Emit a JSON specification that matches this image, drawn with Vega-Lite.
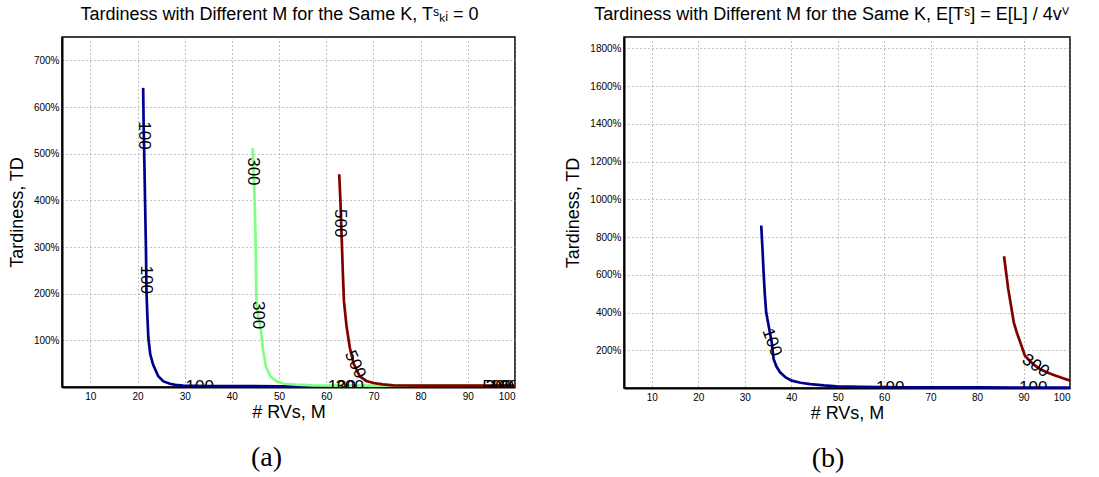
{
  "$schema": "https://vega.github.io/schema/vega-lite/v6.json",
  "padding": {"left": 7, "top": 4, "right": 5, "bottom": 5},
  "background": "white",
  "resolve": {"scale": {"color": "independent"}},
  "config": {
    "font": "Liberation Sans",
    "view": {"stroke": "black", "strokeWidth": 1.5},
    "concat": {"spacing": 42},
    "axis": {
      "grid": true,
      "gridColor": "#888888",
      "gridDash": [1, 3],
      "gridWidth": 1,
      "gridOpacity": 1,
      "ticks": false,
      "domain": true,
      "domainColor": "black",
      "domainWidth": 2,
      "labelFont": "Liberation Sans",
      "labelFontSize": 10,
      "labelColor": "black",
      "labelPadding": 4,
      "titleFont": "Liberation Sans",
      "titleFontSize": 18,
      "titleFontWeight": "normal",
      "titleColor": "black"
    }
  },
  "hconcat": [
    {
      "width": 453,
      "height": 350,
      "title": {"text": "(a)", "orient": "bottom", "font": "Liberation Serif", "fontSize": 28, "fontWeight": "normal", "color": "black", "offset": 23, "dx": -22},
      "resolve": {"axis": {"x": "independent", "y": "independent"}},
      "layer": [
        {
          "data": {"values": [
            {"M": 21.2, "td": 641, "k": "100"}, {"M": 21.3, "td": 560, "k": "100"}, {"M": 21.4, "td": 512, "k": "100"},
            {"M": 21.6, "td": 400, "k": "100"}, {"M": 21.8, "td": 290, "k": "100"}, {"M": 21.9, "td": 206, "k": "100"},
            {"M": 22.1, "td": 150, "k": "100"}, {"M": 22.3, "td": 105, "k": "100"}, {"M": 22.7, "td": 70, "k": "100"},
            {"M": 23.3, "td": 48, "k": "100"}, {"M": 24.4, "td": 23, "k": "100"}, {"M": 25.5, "td": 12, "k": "100"},
            {"M": 26.9, "td": 7, "k": "100"}, {"M": 28, "td": 4.5, "k": "100"}, {"M": 29.7, "td": 3, "k": "100"},
            {"M": 35, "td": 2, "k": "100"}, {"M": 50, "td": 1.5, "k": "100"}, {"M": 100, "td": 1.5, "k": "100"},
            {"M": 44.4, "td": 512, "k": "300"}, {"M": 44.7, "td": 441, "k": "300"}, {"M": 45.0, "td": 330, "k": "300"},
            {"M": 45.2, "td": 184, "k": "300"}, {"M": 45.6, "td": 150, "k": "300"}, {"M": 46.1, "td": 126, "k": "300"},
            {"M": 46.6, "td": 80, "k": "300"}, {"M": 47.2, "td": 44, "k": "300"}, {"M": 48.2, "td": 22, "k": "300"},
            {"M": 49.5, "td": 12, "k": "300"}, {"M": 51, "td": 7, "k": "300"}, {"M": 53.7, "td": 5, "k": "300"},
            {"M": 57, "td": 3.5, "k": "300"}, {"M": 62, "td": 3, "k": "300"}, {"M": 100, "td": 3, "k": "300"},
            {"M": 62.75, "td": 456, "k": "500"}, {"M": 63.0, "td": 400, "k": "500"}, {"M": 63.25, "td": 326, "k": "500"},
            {"M": 63.5, "td": 250, "k": "500"}, {"M": 63.75, "td": 184, "k": "500"}, {"M": 64.3, "td": 130, "k": "500"},
            {"M": 65.0, "td": 84, "k": "500"}, {"M": 65.8, "td": 50, "k": "500"}, {"M": 67.1, "td": 23, "k": "500"},
            {"M": 68.5, "td": 13, "k": "500"}, {"M": 70, "td": 8.6, "k": "500"}, {"M": 72, "td": 5.5, "k": "500"},
            {"M": 74.2, "td": 3.5, "k": "500"}, {"M": 80, "td": 3, "k": "500"}, {"M": 100, "td": 3, "k": "500"}
          ]},
          "mark": {"type": "line", "strokeWidth": 2.7},
          "encoding": {
            "x": {"field": "M", "type": "quantitative", "scale": {"domain": [4, 100], "nice": false, "zero": false},
                  "axis": {"values": [10, 20, 30, 40, 50, 60, 70, 80, 90, 100], "title": "# RVs, M", "titlePadding": 2}},
            "y": {"field": "td", "type": "quantitative", "scale": {"domain": [0, 750], "nice": false},
                  "axis": {"values": [100, 200, 300, 400, 500, 600, 700], "labelExpr": "datum.value + '%'", "title": "Tardiness, TD", "titlePadding": 7, "labelPadding": 3}},
            "color": {"field": "k", "type": "nominal", "scale": {"domain": ["100", "300", "500"], "range": ["#00008f", "#80ff80", "#800000"]}, "legend": null}
          }
        },
        {
          "data": {"values": [
            {"M": 21.4, "td": 539, "k": "100"}, {"M": 21.85, "td": 230, "k": "100"},
            {"M": 44.55, "td": 462, "k": "300"}, {"M": 45.5, "td": 154, "k": "300"},
            {"M": 63.0, "td": 351, "k": "500"}
          ]},
          "mark": {"type": "text", "angle": 90, "fontSize": 17, "font": "Liberation Sans", "color": "black", "clip": true, "baseline": "middle", "align": "center"},
          "encoding": {
            "x": {"field": "M", "type": "quantitative", "scale": {"domain": [4, 100], "nice": false, "zero": false}, "axis": null},
            "y": {"field": "td", "type": "quantitative", "scale": {"domain": [0, 750], "nice": false}, "axis": null},
            "text": {"field": "k"}
          }
        },
        {
          "data": {"values": [{"M": 66.1, "td": 48, "k": "500"}]},
          "mark": {"type": "text", "angle": 65, "fontSize": 17, "font": "Liberation Sans", "color": "black", "clip": true, "baseline": "middle", "align": "center"},
          "encoding": {
            "x": {"field": "M", "type": "quantitative", "scale": {"domain": [4, 100], "nice": false, "zero": false}, "axis": null},
            "y": {"field": "td", "type": "quantitative", "scale": {"domain": [0, 750], "nice": false}, "axis": null},
            "text": {"field": "k"}
          }
        },
        {
          "data": {"values": [
            {"M": 33.2, "td": 0, "k": "100"}, {"M": 63.3, "td": 0, "k": "100"}, {"M": 65.0, "td": 0, "k": "300"},
            {"M": 96.1, "td": 0, "k": "500"}, {"M": 96.8, "td": 0, "k": "300"}, {"M": 97.6, "td": 0, "k": "100"}
          ]},
          "mark": {"type": "text", "angle": 0, "fontSize": 17, "font": "Liberation Sans", "color": "black", "clip": true, "baseline": "middle", "align": "center"},
          "encoding": {
            "x": {"field": "M", "type": "quantitative", "scale": {"domain": [4, 100], "nice": false, "zero": false},
                  "axis": {"orient": "top", "labels": false, "ticks": false, "domain": false, "grid": false, "title": "Tardiness with Different M for the Same K, Tˢₖᵢ = 0", "titleFontSize": 18, "titlePadding": 14, "titleX": 217}},
            "y": {"field": "td", "type": "quantitative", "scale": {"domain": [0, 750], "nice": false}, "axis": null},
            "text": {"field": "k"}
          }
        }
      ]
    },
    {
      "width": 446,
      "height": 351,
      "title": {"text": "(b)", "orient": "bottom", "font": "Liberation Serif", "fontSize": 28, "fontWeight": "normal", "color": "black", "offset": 23, "dx": -19},
      "resolve": {"axis": {"x": "independent", "y": "independent"}},
      "layer": [
        {
          "data": {"values": [
            {"M": 33.54, "td": 861, "k": "100"}, {"M": 33.8, "td": 740, "k": "100"}, {"M": 34.05, "td": 613, "k": "100"},
            {"M": 34.3, "td": 500, "k": "100"}, {"M": 34.6, "td": 401, "k": "100"}, {"M": 35.2, "td": 320, "k": "100"},
            {"M": 35.8, "td": 242, "k": "100"}, {"M": 36.2, "td": 154, "k": "100"}, {"M": 36.8, "td": 115, "k": "100"},
            {"M": 37.6, "td": 83, "k": "100"}, {"M": 38.8, "td": 56, "k": "100"}, {"M": 40.1, "td": 39, "k": "100"},
            {"M": 42, "td": 28, "k": "100"}, {"M": 44.1, "td": 21, "k": "100"}, {"M": 47, "td": 14, "k": "100"},
            {"M": 49.8, "td": 9, "k": "100"}, {"M": 55, "td": 6, "k": "100"}, {"M": 64, "td": 4, "k": "100"},
            {"M": 80, "td": 3, "k": "100"}, {"M": 100, "td": 2, "k": "100"},
            {"M": 85.8, "td": 698, "k": "300"}, {"M": 86.7, "td": 525, "k": "300"}, {"M": 87.9, "td": 348, "k": "300"},
            {"M": 88.6, "td": 290, "k": "300"}, {"M": 89.3, "td": 242, "k": "300"}, {"M": 90.3, "td": 171, "k": "300"},
            {"M": 91.3, "td": 145, "k": "300"}, {"M": 92.5, "td": 118, "k": "300"}, {"M": 93.7, "td": 98, "k": "300"},
            {"M": 95.0, "td": 83, "k": "300"}, {"M": 96.5, "td": 69, "k": "300"}, {"M": 97.9, "td": 57, "k": "300"},
            {"M": 100, "td": 39, "k": "300"}
          ]},
          "mark": {"type": "line", "strokeWidth": 2.7},
          "encoding": {
            "x": {"field": "M", "type": "quantitative", "scale": {"domain": [4, 100], "nice": false, "zero": false},
                  "axis": {"values": [10, 20, 30, 40, 50, 60, 70, 80, 90, 100], "title": "# RVs, M", "titlePadding": 2}},
            "y": {"field": "td", "type": "quantitative", "scale": {"domain": [0, 1860], "nice": false},
                  "axis": {"values": [200, 400, 600, 800, 1000, 1200, 1400, 1600, 1800], "labelExpr": "datum.value + '%'", "title": "Tardiness, TD", "titlePadding": 7, "labelPadding": 3}},
            "color": {"field": "k", "type": "nominal", "scale": {"domain": ["100", "300"], "range": ["#00008f", "#800000"]}, "legend": null}
          }
        },
        {
          "data": {"values": [{"M": 35.8, "td": 242, "k": "100"}]},
          "mark": {"type": "text", "angle": 70, "fontSize": 17, "font": "Liberation Sans", "color": "black", "clip": true, "baseline": "middle", "align": "center"},
          "encoding": {
            "x": {"field": "M", "type": "quantitative", "scale": {"domain": [4, 100], "nice": false, "zero": false}, "axis": null},
            "y": {"field": "td", "type": "quantitative", "scale": {"domain": [0, 1860], "nice": false}, "axis": null},
            "text": {"field": "k"}
          }
        },
        {
          "data": {"values": [{"M": 92.6, "td": 118, "k": "300"}]},
          "mark": {"type": "text", "angle": 34, "fontSize": 17, "font": "Liberation Sans", "color": "black", "clip": true, "baseline": "middle", "align": "center"},
          "encoding": {
            "x": {"field": "M", "type": "quantitative", "scale": {"domain": [4, 100], "nice": false, "zero": false}, "axis": null},
            "y": {"field": "td", "type": "quantitative", "scale": {"domain": [0, 1860], "nice": false}, "axis": null},
            "text": {"field": "k"}
          }
        },
        {
          "data": {"values": [{"M": 61.3, "td": 0, "k": "100"}, {"M": 92.1, "td": 0, "k": "100"}]},
          "mark": {"type": "text", "angle": 0, "fontSize": 17, "font": "Liberation Sans", "color": "black", "clip": true, "baseline": "middle", "align": "center"},
          "encoding": {
            "x": {"field": "M", "type": "quantitative", "scale": {"domain": [4, 100], "nice": false, "zero": false},
                  "axis": {"orient": "top", "labels": false, "ticks": false, "domain": false, "grid": false, "title": "Tardiness with Different M for the Same K, E[Tˢ] = E[L] / 4vⱽ", "titleFontSize": 18, "titlePadding": 14, "titleX": 207}},
            "y": {"field": "td", "type": "quantitative", "scale": {"domain": [0, 1860], "nice": false}, "axis": null},
            "text": {"field": "k"}
          }
        }
      ]
    }
  ]
}
